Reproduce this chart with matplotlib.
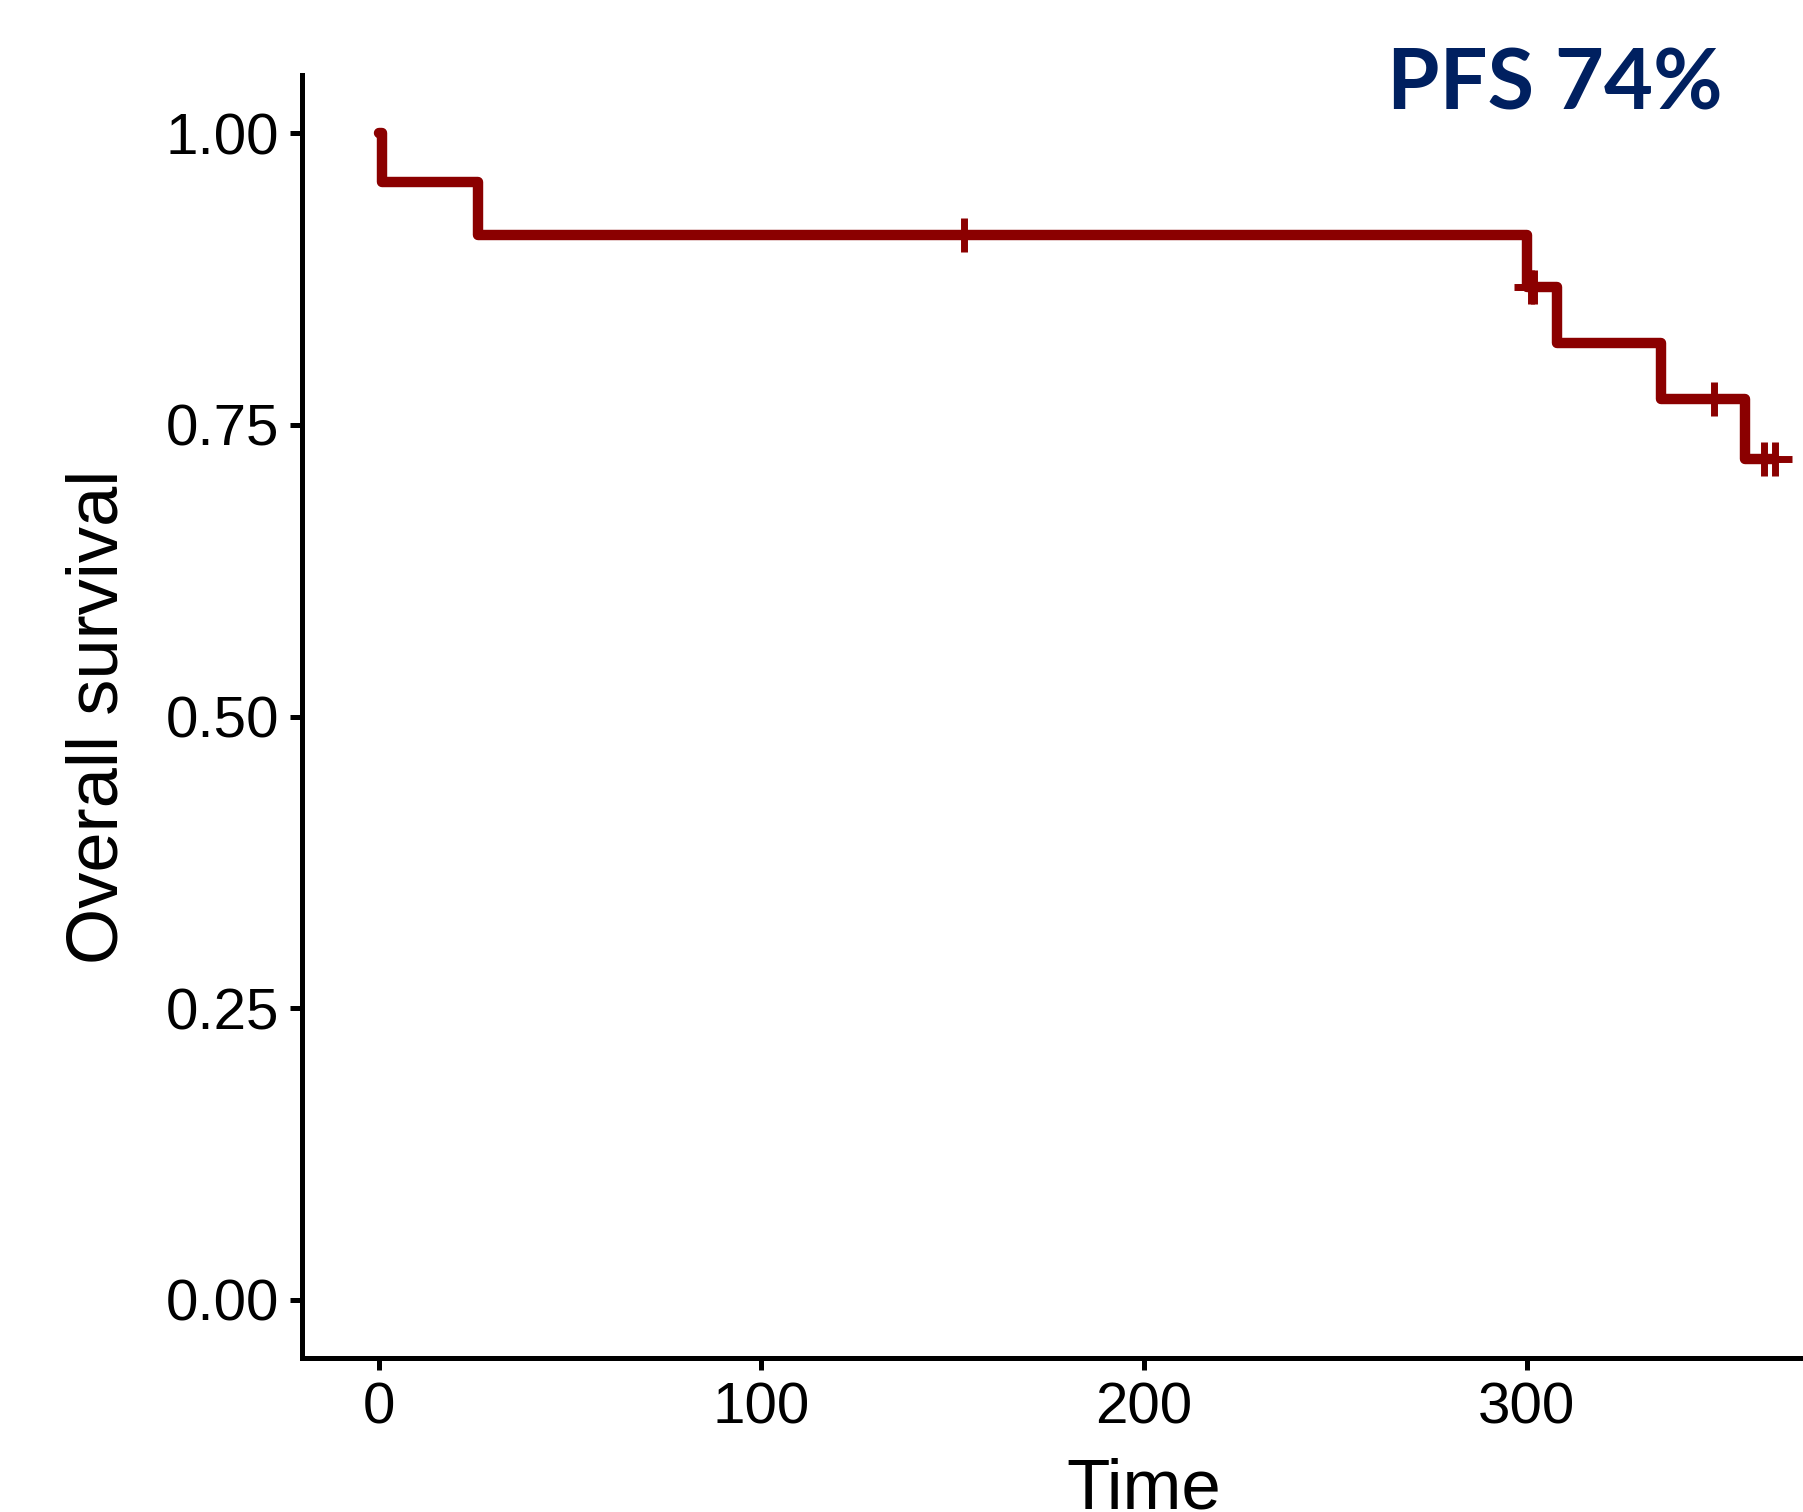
import matplotlib
matplotlib.use("Agg")
import matplotlib.pyplot as plt
import numpy as np

# Kaplan-Meier step data
step_times = [0, 1, 26, 300, 308, 335, 357, 365]
step_surv = [1.0, 0.958, 0.913, 0.868, 0.820, 0.772, 0.721, 0.721]
censor_times = [153, 301, 302, 349, 362, 365]

x_ticks = [0, 100, 200, 300]
y_ticks = [0.00, 0.25, 0.50, 0.75, 1.00]
y_ticklabels = ["0.00", "0.25", "0.50", "0.75", "1.00"]
title_text = "PFS 74%"

DPI = 100
W, H = 1803, 1512
fig = plt.figure(figsize=(W / DPI, H / DPI), dpi=DPI)
plt.rcParams['font.family'] = ['Liberation Sans', 'DejaVu Sans']

left_px, right_px, top_px, bottom_px = 302, 1986, 75, 1358
ax = fig.add_axes([left_px / W, 1 - bottom_px / H, (right_px - left_px) / W, (bottom_px - top_px) / H])

color = "#8B0000"
ax.step(step_times, step_surv, where="post", color=color, lw=7.5,
        solid_capstyle="round", solid_joinstyle="round")

# censor marks at the survival level in effect
st = np.array(step_times)
sv = np.array(step_surv)
cens_y = [sv[np.searchsorted(st, t, side="right") - 1] for t in censor_times]
ax.plot(censor_times, cens_y, linestyle="none", marker="+", markersize=25,
        markeredgewidth=5, color=color)

ax.set_xlim(-20, 420)
ax.set_ylim(-0.05, 1.05)
ax.set_xticks(x_ticks)
ax.set_xticklabels([str(t) for t in x_ticks])
ax.set_yticks(y_ticks)
ax.set_yticklabels(y_ticklabels)

for s in ["top", "right"]:
    ax.spines[s].set_visible(False)
for s in ["left", "bottom"]:
    ax.spines[s].set_linewidth(3.6)
    ax.spines[s].set_color("black")

ax.tick_params(axis="both", length=8.6, width=3.6, color="black", labelsize=42, labelcolor="black")
ax.tick_params(axis="y", pad=8)
ax.tick_params(axis="x", pad=8)

ax.set_xlabel("Time", fontsize=51, labelpad=16)
ax.set_ylabel("Overall survival", fontsize=52, labelpad=24)

fig.text(1387 / W, 1 - 109 / H, title_text, fontsize=61, fontweight="bold",
         color="#002060", family=["Lato", "DejaVu Sans"], ha="left", va="baseline")

fig.savefig("out.png", dpi=DPI)
